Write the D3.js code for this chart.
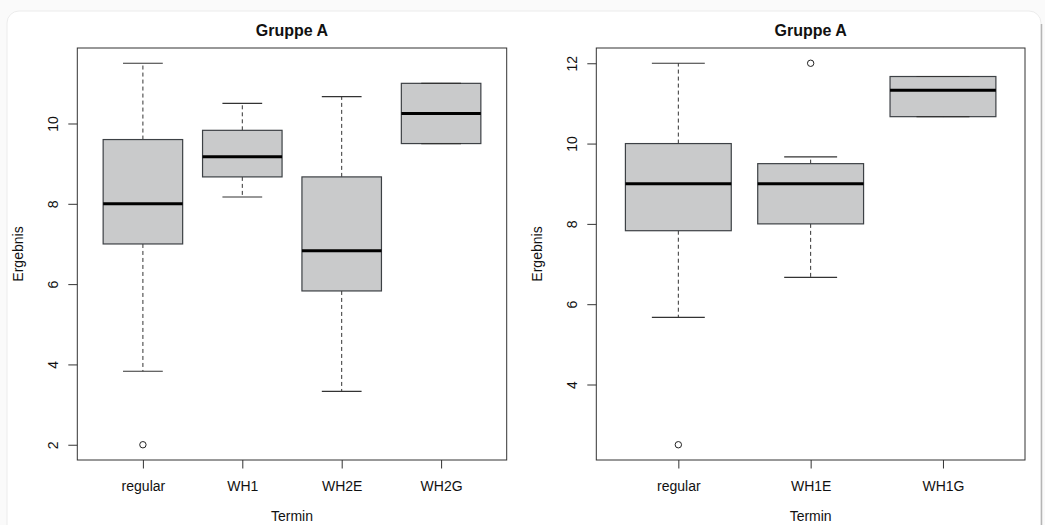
<!DOCTYPE html>
<html>
<head>
<meta charset="utf-8">
<script src="https://cdn.jsdelivr.net/npm/d3@7"></script>
<style>
  html, body { margin: 0; padding: 0; background: #fafafa; }
  svg { display: block; }
  text { font-family: "Liberation Sans", Arial, Helvetica, sans-serif; fill: #111; }
</style>
</head>
<body>
<svg id="chart" width="1045" height="525"></svg>
<script>
// ---------- data ----------
const leftTitle = "Gruppe A";
const leftCategories = ["regular", "WH1", "WH2E", "WH2G"];
const leftWhiskerLow  = [3.83, 8.17, 3.33, 9.5];
const leftQ1          = [7.0, 8.67, 5.83, 9.5];
const leftMedian      = [8.0, 9.17, 6.83, 10.25];
const leftQ3          = [9.6, 9.83, 8.67, 11.0];
const leftWhiskerHigh = [11.5, 10.5, 10.67, 11.0];
const leftOutliers    = [[2.0], [], [], []];
const leftYTicks      = [2, 4, 6, 8, 10];

const rightTitle = "Gruppe A";
const rightCategories = ["regular", "WH1E", "WH1G"];
const rightWhiskerLow  = [5.67, 6.67, 10.67];
const rightQ1          = [7.83, 8.0, 10.67];
const rightMedian      = [9.0, 9.0, 11.33];
const rightQ3          = [10.0, 9.5, 11.67];
const rightWhiskerHigh = [12.0, 9.67, 11.67];
const rightOutliers    = [[2.5], [12.0], []];
const rightYTicks      = [4, 6, 8, 10, 12];

const xLabel = "Termin";
const yLabel = "Ergebnis";

// ---------- drawing ----------
const svg = d3.select("#chart");

// card background
svg.append("rect").attr("x", 7).attr("y", 11).attr("width", 1034).attr("height", 540)
  .attr("rx", 12).attr("fill", "#ffffff").attr("stroke", "#ececec").attr("stroke-width", 1);
svg.append("path").attr("d", "M1041.5,24 L1041.5,525")
  .attr("stroke", "#b5b5b5").attr("stroke-width", 1.5).attr("fill", "none");

function panel(cfg) {
  const { left, right, top, bottom, title, cats, lo, q1, med, q3, hi, outl, yTicks } = cfg;
  const n = cats.length;
  const allVals = [].concat(lo, hi, ...outl);
  const dmin = d3.min(allVals), dmax = d3.max(allVals);
  const pad = (dmax - dmin) * 0.04;
  const y = d3.scaleLinear().domain([dmin - pad, dmax + pad]).range([bottom, top]);
  const xpad = n * 0.04;
  const x = d3.scaleLinear().domain([0.5 - xpad, n + 0.5 + xpad]).range([left, right]);
  const unit = x(1) - x(0);
  const g = svg.append("g");

  const boxes = cats.map((c, i) => ({ c, i: i + 1, lo: lo[i], q1: q1[i], med: med[i], q3: q3[i], hi: hi[i], out: outl[i] }));

  // whiskers (dashed)
  g.selectAll(".wl").data(boxes).join("line")
    .attr("x1", d => x(d.i)).attr("x2", d => x(d.i))
    .attr("y1", d => y(d.q1)).attr("y2", d => y(d.lo))
    .attr("stroke", "#333").attr("stroke-width", 1).attr("stroke-dasharray", "4,3");
  g.selectAll(".wh").data(boxes).join("line")
    .attr("x1", d => x(d.i)).attr("x2", d => x(d.i))
    .attr("y1", d => y(d.q3)).attr("y2", d => y(d.hi))
    .attr("stroke", "#333").attr("stroke-width", 1).attr("stroke-dasharray", "4,3");

  // boxes
  g.selectAll(".box").data(boxes).join("rect")
    .attr("x", d => x(d.i - 0.4)).attr("width", 0.8 * unit)
    .attr("y", d => y(d.q3)).attr("height", d => y(d.q1) - y(d.q3))
    .attr("fill", "#c9cacb").attr("stroke", "#3d4145").attr("stroke-width", 1.2);

  // staples
  ["lo", "hi"].forEach(k => {
    g.selectAll(".st" + k).data(boxes).join("line")
      .attr("x1", d => x(d.i - 0.2)).attr("x2", d => x(d.i + 0.2))
      .attr("y1", d => y(d[k])).attr("y2", d => y(d[k]))
      .attr("stroke", "#333").attr("stroke-width", 1.2);
  });

  // medians
  g.selectAll(".med").data(boxes).join("line")
    .attr("x1", d => x(d.i - 0.4)).attr("x2", d => x(d.i + 0.4))
    .attr("y1", d => y(d.med)).attr("y2", d => y(d.med))
    .attr("stroke", "#000").attr("stroke-width", 3);

  // outliers
  const outPts = boxes.flatMap(d => d.out.map(v => ({ i: d.i, v })));
  g.selectAll(".out").data(outPts).join("circle")
    .attr("cx", d => x(d.i)).attr("cy", d => y(d.v)).attr("r", 3.2)
    .attr("fill", "none").attr("stroke", "#222").attr("stroke-width", 1);

  // frame
  g.append("rect").attr("x", left).attr("y", top).attr("width", right - left).attr("height", bottom - top)
    .attr("fill", "none").attr("stroke", "#333").attr("stroke-width", 1);

  // y axis
  const yAx = g.append("g").attr("transform", `translate(${left},0)`)
    .call(d3.axisLeft(y).tickValues(yTicks).tickSize(9).tickPadding(0).tickFormat(d3.format("d")));
  yAx.select(".domain").remove();
  yAx.selectAll(".tick line").attr("stroke", "#333");
  yAx.selectAll(".tick text")
    .attr("x", null).attr("dy", null)
    .attr("transform", "translate(-19,0) rotate(-90)")
    .attr("text-anchor", "middle").attr("y", 0)
    .style("font-size", "14px").attr("fill", "#111");

  // x axis
  const xAx = g.append("g").attr("transform", `translate(0,${bottom})`)
    .call(d3.axisBottom(x).tickValues(d3.range(1, n + 1)).tickSize(8.5).tickPadding(0)
      .tickFormat(d => cats[d - 1]));
  xAx.select(".domain").remove();
  xAx.selectAll(".tick line").attr("stroke", "#333");
  xAx.selectAll(".tick text").attr("dy", null).attr("y", 31)
    .style("font-size", "14px").attr("fill", "#111");

  // titles
  g.append("text").attr("x", (left + right) / 2).attr("y", 36).attr("text-anchor", "middle")
    .style("font-size", "16px").style("font-weight", "bold").text(title);
  g.append("text").attr("x", (left + right) / 2).attr("y", 521).attr("text-anchor", "middle")
    .style("font-size", "14px").text(xLabel);
  g.append("text").attr("transform", `translate(${left - 54},${(top + bottom) / 2}) rotate(-90)`)
    .attr("text-anchor", "middle").style("font-size", "14px").text(yLabel);
}

panel({ left: 77.3, right: 506.7, top: 48, bottom: 460, title: leftTitle, cats: leftCategories,
  lo: leftWhiskerLow, q1: leftQ1, med: leftMedian, q3: leftQ3, hi: leftWhiskerHigh, outl: leftOutliers, yTicks: leftYTicks });
panel({ left: 596.3, right: 1025, top: 48, bottom: 460, title: rightTitle, cats: rightCategories,
  lo: rightWhiskerLow, q1: rightQ1, med: rightMedian, q3: rightQ3, hi: rightWhiskerHigh, outl: rightOutliers, yTicks: rightYTicks });
</script>
</body>
</html>
